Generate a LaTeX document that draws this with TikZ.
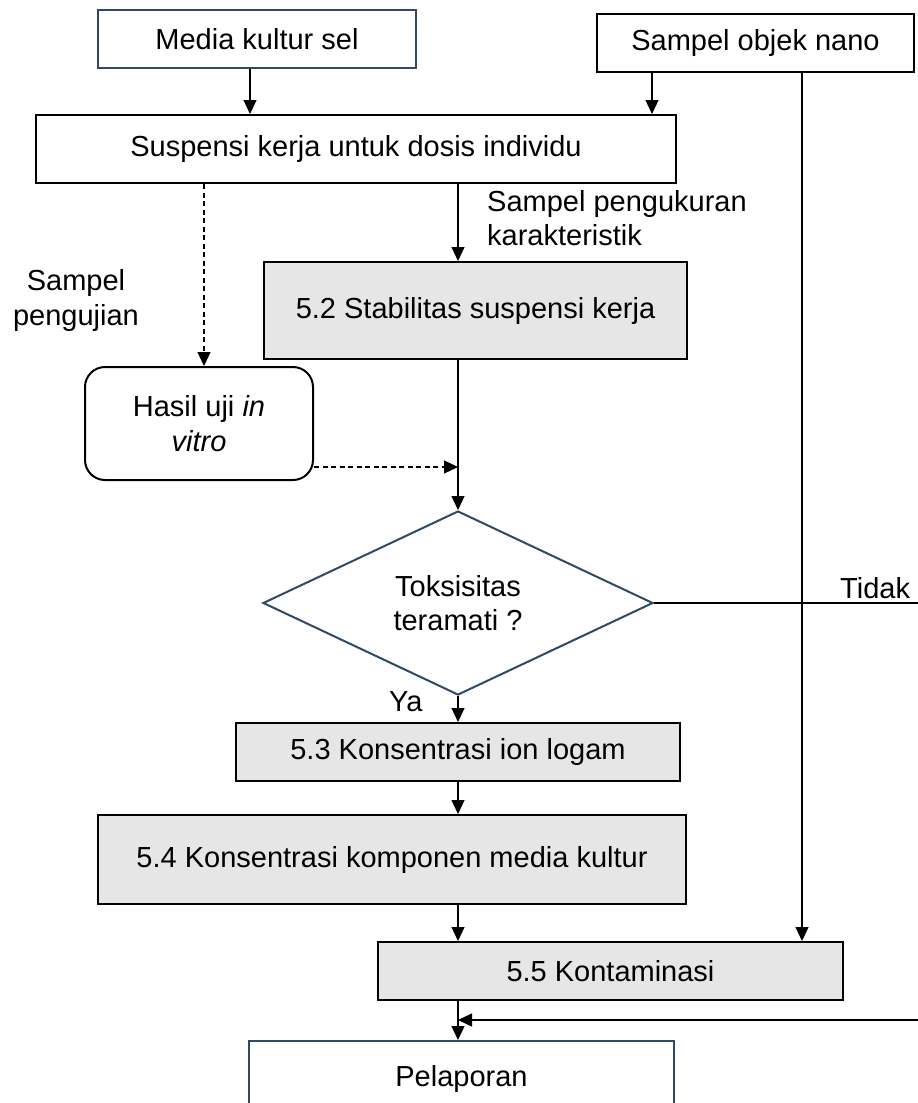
\documentclass[tikz,border=0pt]{standalone}
\usepackage{fontspec}
\setmainfont{Liberation Sans}
\usetikzlibrary{shapes.geometric,arrows.meta,calc}
\definecolor{bblue}{RGB}{46,74,102}
\definecolor{gfill}{RGB}{230,230,230}
\begin{document}
\begin{tikzpicture}[x=1pt,y=-1pt,
  every node/.style={font=\fontsize{29}{34.5}\selectfont, inner sep=0pt},
  blkbox/.style={draw=black, line width=2pt, rectangle, align=center},
  graybox/.style={blkbox, fill=gfill},
  bluebox/.style={draw=bblue, line width=2pt, rectangle, align=center},
  arr/.style={line width=1.2pt, -{Triangle[length=14pt,width=13pt]}},
  plain/.style={line width=1.2pt},
  dashline/.style={dash pattern=on 5pt off 3.5pt}
]
\useasboundingbox (0,0) rectangle (918,1103);
\clip (0,0) rectangle (918,1103);
\fill[white] (0,0) rectangle (918,1103);

% boxes
\node[bluebox, minimum width=318, minimum height=58] (media) at (257,39) {Media kultur sel};
\node[blkbox, minimum width=317, minimum height=58] (nano) at (755.5,43) {Sampel objek nano};
\node[blkbox, minimum width=640, minimum height=68] (susp) at (356,149) {Suspensi kerja untuk dosis individu};
\node[graybox, minimum width=423, minimum height=97] (stab) at (475.5,310.5) {5.2 Stabilitas suspensi kerja};
\node[blkbox, rounded corners=20pt, minimum width=228, minimum height=113] (hasil) at (199,423.5) {Hasil uji \textit{in}\\\textit{vitro}};
\node[diamond, aspect=2, draw=bblue, line width=2pt, minimum width=390, minimum height=184, align=center] (dec) at (458,603) {Toksisitas\\teramati ?};
\node[graybox, minimum width=444, minimum height=58] (k53) at (458,752) {5.3 Konsentrasi ion logam};
\node[graybox, minimum width=588, minimum height=89] (k54) at (392,859.5) {5.4 Konsentrasi komponen media kultur};
\node[graybox, minimum width=465, minimum height=58] (k55) at (610.5,971) {5.5 Kontaminasi};
\node[bluebox, minimum width=425, minimum height=75] (pel) at (461.5,1078.5) {Pelaporan};

% labels
\node[anchor=north west, align=left] (lblmeas) at (487,190) {Sampel pengukuran\\karakteristik};
\node[anchor=north, align=center] (lbltest) at (76,269.5) {Sampel\\pengujian};
\node[anchor=base west] (ya) at (389,711) {Ya};
\node[anchor=base west] (tidak) at (840,598) {Tidak};

% free ends at the right edge
\coordinate (tidakend) at (918,601);
\coordinate (retstart) at (918,1020);

% connectors
\draw[arr] ([xshift=-7pt]media.south) -- ([xshift=-7pt]media.south |- susp.north);
\draw[arr] ([xshift=-103.5pt]nano.south) -- ([xshift=-103.5pt]nano.south |- susp.north);
\draw[arr] ([xshift=46.5pt]nano.south) -- ([xshift=46.5pt]nano.south |- k55.north);
\draw[arr] ([xshift=102pt]susp.south) -- ([xshift=102pt]susp.south |- stab.north);
\draw[arr,dashline] ([xshift=-152pt]susp.south) -- ([xshift=-152pt]susp.south |- hasil.north);
\draw[arr] (stab.south -| dec.north) -- (dec.north);
\draw[arr,dashline] ([yshift=-43.5pt]hasil.east) -- ([yshift=-43.5pt]hasil.east -| dec.north);
\draw[arr] (dec.south) -- (dec.south |- k53.north);
\draw[plain] (dec.east) -- (dec.east -| tidakend);
\draw[arr] (k53.south) -- (k53.south |- k54.north);
\draw[arr] (k53.south |- k54.south) -- (k53.south |- k55.north);
\draw[arr] (k53.south |- k55.south) -- (k53.south |- pel.north);
\draw[arr] (retstart) -- (retstart -| k53.south);
\end{tikzpicture}
\end{document}
